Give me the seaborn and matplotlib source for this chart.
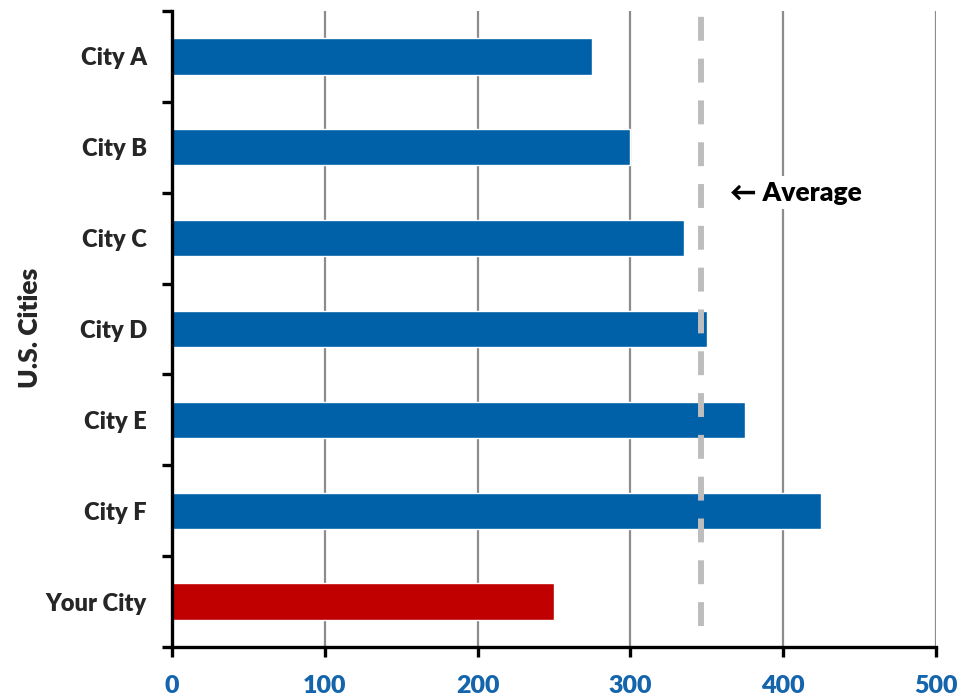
import matplotlib
matplotlib.use("Agg")
import matplotlib.pyplot as plt
import seaborn as sns
import pandas as pd
import numpy as np
from matplotlib.ticker import FixedLocator

cities = ["City A", "City B", "City C", "City D", "City E", "City F", "Your City"]
values = [275, 300, 335, 350, 375, 425, 250]
bar_colors = ["#0060A8", "#0060A8", "#0060A8", "#0060A8", "#0060A8", "#0060A8", "#C00000"]
average_value = 346
x_ticks = [0, 100, 200, 300, 400, 500]
y_label = "U.S. Cities"
avg_label = "\u2190 Average"

sns.set_theme(style="white")
plt.rcParams["font.family"] = ["Lato", "DejaVu Sans"]

df = pd.DataFrame({"city": cities, "value": values})

fig = plt.figure(figsize=(9.61, 6.98), dpi=100)
ax = fig.add_axes([172 / 961, 1 - 647 / 698, (936 - 172) / 961, (647 - 11) / 698])

sns.barplot(data=df, x="value", y="city", hue="city", palette=bar_colors,
            orient="h", width=0.4, ax=ax, legend=False, saturation=1, zorder=3)

ax.set_xlim(0, 500)
ax.set_ylim(6.5, -0.5)
ax.xaxis.set_major_locator(FixedLocator(x_ticks))
ax.set_xticklabels([str(t) for t in x_ticks])
ax.grid(axis="x", color="#8C8C8C", linewidth=1.6, zorder=0)
ax.grid(axis="y", visible=False)
ax.set_axisbelow(True)

# average line
ax.axvline(average_value, ymin=(647 - 626) / 636, ymax=(647 - 15) / 636,
           color="#BDBDBD", linewidth=4.3, linestyle=(0, (4, 3)), zorder=5)
ax.text(365, 1.5, avg_label, ha="left", va="center", fontsize=19,
        fontweight="heavy", color="black", zorder=6,
        bbox=dict(facecolor="white", edgecolor="none", pad=3))

# spines
for s in ["top", "right"]:
    ax.spines[s].set_visible(False)
for s in ["left", "bottom"]:
    ax.spines[s].set_visible(True)
    ax.spines[s].set_color("black")
    ax.spines[s].set_linewidth(2.4)
    ax.spines[s].set_zorder(7)

ax.set_yticks(range(len(cities)))
ax.set_yticklabels(cities)
ax.set_yticks(np.arange(-0.5, len(cities), 1.0), minor=True)
ax.tick_params(axis="y", which="major", length=0, pad=18, labelsize=17)
ax.tick_params(axis="y", which="minor", length=7, width=2.4, color="black", direction="out", left=True)
ax.tick_params(axis="x", which="major", length=7, width=2.4, color="black", direction="out",
               bottom=True, pad=13, labelsize=18, labelcolor="#1565AD")
for lab in ax.get_yticklabels():
    lab.set_fontweight("heavy")
for lab in ax.get_xticklabels():
    lab.set_fontweight("heavy")

ax.set_xlabel("")
ax.set_ylabel(y_label, fontsize=19, fontweight="heavy")
ax.yaxis.set_label_coords((30 - 172) / 764, (647 - 327.5) / 636)
ax.yaxis.label.set_va("center")

fig.savefig("out.png", dpi=100)
